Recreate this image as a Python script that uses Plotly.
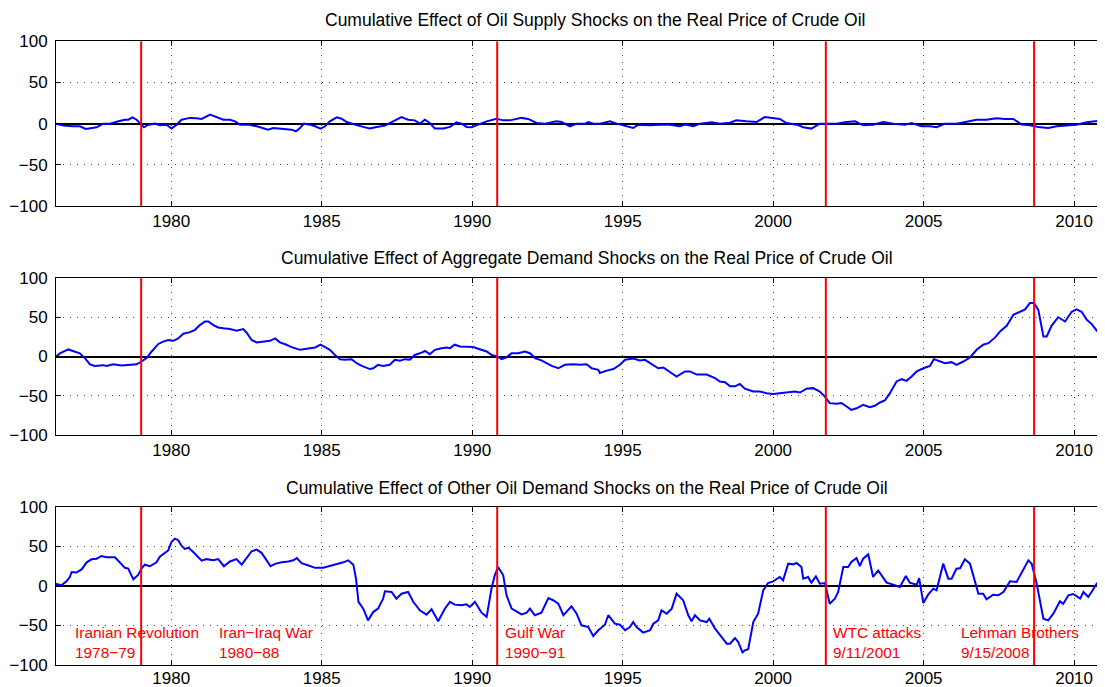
import plotly.graph_objects as go

# ---------------- data (decimal years) ----------------
supply_dates = [1976.17, 1976.41, 1976.74, 1976.96, 1977.16, 1977.35, 1977.52, 1977.74, 1977.96, 1978.24,
                1978.46, 1978.57, 1978.71, 1978.85, 1979.01, 1979.09, 1979.24, 1979.46, 1979.62, 1979.84,
                1980.01, 1980.18, 1980.34, 1980.62, 1980.84, 1981.01, 1981.29, 1981.51, 1981.73, 1981.95,
                1982.12, 1982.28, 1982.56, 1982.84, 1983.06, 1983.22, 1983.39, 1983.61, 1983.83, 1984.00,
                1984.14, 1984.28, 1984.41, 1984.61, 1984.78, 1984.96, 1985.11, 1985.27, 1985.50, 1985.66,
                1985.83, 1986.05, 1986.22, 1986.44, 1986.60, 1986.82, 1987.10, 1987.37, 1987.65, 1987.87,
                1988.09, 1988.26, 1988.43, 1988.59, 1988.76, 1989.04, 1989.26, 1989.48, 1989.65, 1989.81,
                1989.98, 1990.20, 1990.48, 1990.81, 1991.03, 1991.25, 1991.47, 1991.64, 1991.86, 1992.14,
                1992.42, 1992.80, 1992.97, 1993.25, 1993.47, 1993.75, 1993.86, 1994.02, 1994.24, 1994.58,
                1994.80, 1995.02, 1995.35, 1995.52, 1995.91, 1996.24, 1996.57, 1996.90, 1997.07, 1997.35,
                1997.57, 1997.96, 1998.23, 1998.56, 1998.78, 1999.11, 1999.45, 1999.72, 2000.00, 2000.22,
                2000.44, 2000.78, 2001.00, 2001.27, 2001.55, 2001.77, 2002.11, 2002.38, 2002.72, 2002.99,
                2003.32, 2003.66, 2003.99, 2004.38, 2004.60, 2004.93, 2005.21, 2005.43, 2005.71, 2006.09,
                2006.43, 2006.76, 2007.09, 2007.42, 2007.70, 2007.98, 2008.26, 2008.53, 2008.81, 2009.14,
                2009.42, 2009.75, 2010.08, 2010.42, 2010.69, 2010.96]
supply_vals = [0, -2.4, -3.2, -3.2, -6.5, -5.3, -4.4, 0, 0, 2.8,
               4.8, 4.8, 7.7, 4.8, -1.2, -4.4, -1.2, 0, -2, -1.2,
               -6, -1.2, 4.8, 7, 6.5, 5.7, 11, 8, 4.8, 4.8,
               2.8, -1.2, -1.2, -3.2, -5.3, -7.3, -5.3, -6, -6.5, -7.3,
               -9.3, -5.3, 0, -1.2, -3.2, -6, -3.2, 2.8, 7.7, 6,
               2, 0, -2.4, -4.5, -6, -4, -2.4, 2.8, 8, 4.8,
               4, 0, 4.8, 0.8, -6, -6, -4, 1.6, 0, -4,
               -4.4, -1.2, 2.8, 6, 4, 4, 6, 7, 5.7, 0.8,
               0, 2.8, 2, -3.2, 0, 0, 2, 0, 0, 2.8,
               0, -2.4, -5.3, -1.2, -2, -1.2, -1.2, -3.2, -1.2, -3.2,
               0, 1.6, 0, 1.2, 4, 2.8, 2, 8, 7, 5.7,
               0.8, -1.2, -4.4, -6, 0, 0, 0, 1.6, 2.8, -2,
               -1.2, 2, 0, -1.2, 0.8, -3.2, -3.2, -4.4, 0, 0,
               2, 4.8, 4.8, 6.5, 5.7, 5.7, -1.2, -2, -4, -5.3,
               -3.2, -2.4, -1.2, 1.6, 2.8, 5.7]

demand_dates = [1976.17, 1976.30, 1976.58, 1976.80, 1976.96, 1977.13, 1977.30, 1977.46, 1977.74, 1977.85,
                1978.07, 1978.35, 1978.63, 1978.85, 1979.01, 1979.18, 1979.35, 1979.57, 1979.73, 1979.90,
                1980.07, 1980.23, 1980.40, 1980.62, 1980.79, 1980.95, 1981.12, 1981.23, 1981.40, 1981.56,
                1981.73, 1981.95, 1982.17, 1982.39, 1982.50, 1982.67, 1982.84, 1983.06, 1983.28, 1983.45,
                1983.61, 1983.83, 1984.00, 1984.28, 1984.50, 1984.78, 1984.96, 1985.11, 1985.27, 1985.44,
                1985.61, 1985.77, 1985.99, 1986.16, 1986.33, 1986.60, 1986.71, 1986.87, 1987.04, 1987.26,
                1987.43, 1987.60, 1987.76, 1987.93, 1988.09, 1988.32, 1988.43, 1988.59, 1988.76, 1988.98,
                1989.15, 1989.26, 1989.42, 1989.59, 1989.81, 1990.03, 1990.25, 1990.48, 1990.64, 1990.83,
                1990.98, 1991.14, 1991.31, 1991.53, 1991.75, 1991.92, 1992.08, 1992.30, 1992.47, 1992.64,
                1992.86, 1993.08, 1993.36, 1993.58, 1993.80, 1993.97, 1994.19, 1994.24, 1994.47, 1994.69,
                1994.91, 1995.08, 1995.35, 1995.57, 1995.74, 1995.96, 1996.18, 1996.35, 1996.63, 1996.79,
                1997.07, 1997.24, 1997.46, 1997.79, 1998.07, 1998.23, 1998.40, 1998.57, 1998.73, 1998.89,
                1999.06, 1999.34, 1999.56, 1999.78, 2000.00, 2000.22, 2000.50, 2000.72, 2000.89, 2001.11,
                2001.33, 2001.55, 2001.72, 2001.88, 2002.11, 2002.27, 2002.44, 2002.60, 2002.77, 2002.99,
                2003.21, 2003.38, 2003.55, 2003.71, 2003.88, 2004.10, 2004.27, 2004.43, 2004.60, 2004.77,
                2004.99, 2005.21, 2005.34, 2005.49, 2005.71, 2005.93, 2006.09, 2006.32, 2006.54, 2006.76,
                2006.98, 2007.15, 2007.37, 2007.54, 2007.76, 2007.98, 2008.20, 2008.37, 2008.53, 2008.67,
                2008.81, 2008.98, 2009.09, 2009.25, 2009.47, 2009.70, 2009.92, 2010.08, 2010.25, 2010.42,
                2010.58, 2010.75, 2010.92, 2010.96]
demand_vals = [0, 4, 9, 5.5, 4, -2, -10, -12, -11, -12,
               -10, -11.5, -11, -10, -6.4, -2, 6.4, 16, 19, 21,
               20, 23, 29, 31, 34, 40, 44.6, 44.6, 40, 37,
               36, 35, 33, 35, 30.6, 21, 18, 19, 20, 23,
               18, 15, 12, 8.5, 10, 11.5, 15, 12, 8.5, 2,
               -3.4, -4, -3.4, -8.5, -12, -16, -15, -10.6, -12, -10.6,
               -4.2, -5.5, -3.4, -4.2, 2, 5, 7, 3, 8.5, 10.6,
               11.5, 10.6, 15, 12.7, 12.7, 12, 9.3, 6.4, 2, 0,
               -3.4, -1, 4.2, 4.2, 6.4, 4.2, -2, -5, -8.5, -12,
               -15, -10.6, -9.8, -10.6, -9.8, -15, -17, -21, -18, -16,
               -10.6, -4.2, -2.5, -5, -4.2, -9.3, -15, -14, -21, -25.5,
               -19, -19, -23, -23, -27.6, -31.8, -32.7, -38, -38, -35,
               -41, -44.6, -44.6, -46.7, -47.6, -46.7, -44.6, -44.6, -45.9, -41,
               -40.3, -44.6, -51, -59.4, -60.3, -59.4, -63.7, -68, -66, -61.6,
               -64.5, -62.8, -58.6, -56, -46.7, -31.8, -28.9, -31, -25.5, -19,
               -15, -12, -3.4, -5.5, -8.5, -7.2, -10.6, -6.4, -1.3, 8.5,
               15, 17, 24, 32, 39, 53, 56.5, 60, 68, 68,
               59.4, 25.5, 25.5, 39, 50, 44.6, 57, 60, 57, 46.7,
               41.6, 33, 41.6, 41.6]

other_dates = [1976.17, 1976.35, 1976.52, 1976.63, 1976.69, 1976.85, 1977.02, 1977.19, 1977.35, 1977.52,
               1977.68, 1977.85, 1978.13, 1978.29, 1978.46, 1978.57, 1978.68, 1978.74, 1978.90, 1979.01,
               1979.12, 1979.29, 1979.51, 1979.62, 1979.79, 1979.90, 1980.01, 1980.12, 1980.23, 1980.34,
               1980.45, 1980.57, 1980.73, 1980.90, 1981.01, 1981.17, 1981.40, 1981.56, 1981.75, 1981.95,
               1982.17, 1982.34, 1982.50, 1982.67, 1982.84, 1983.00, 1983.17, 1983.30, 1983.45, 1983.67,
               1983.89, 1984.06, 1984.17, 1984.33, 1984.56, 1984.78, 1985.05, 1985.27, 1985.50, 1985.72,
               1985.88, 1986.05, 1986.14, 1986.22, 1986.38, 1986.54, 1986.71, 1986.87, 1987.04, 1987.10,
               1987.32, 1987.48, 1987.65, 1987.87, 1988.04, 1988.26, 1988.48, 1988.65, 1988.87, 1989.09,
               1989.26, 1989.42, 1989.65, 1989.81, 1989.92, 1990.09, 1990.31, 1990.48, 1990.64, 1990.75,
               1990.86, 1991.03, 1991.14, 1991.31, 1991.47, 1991.64, 1991.81, 1991.92, 1992.08, 1992.30,
               1992.53, 1992.69, 1992.86, 1993.03, 1993.30, 1993.47, 1993.63, 1993.86, 1994.02, 1994.19,
               1994.41, 1994.52, 1994.74, 1994.91, 1995.08, 1995.24, 1995.35, 1995.46, 1995.68, 1995.91,
               1996.02, 1996.18, 1996.29, 1996.46, 1996.63, 1996.79, 1997.01, 1997.18, 1997.29, 1997.40,
               1997.57, 1997.79, 1997.88, 1998.07, 1998.29, 1998.46, 1998.57, 1998.73, 1998.84, 1998.98,
               1999.06, 1999.17, 1999.34, 1999.50, 1999.67, 1999.83, 2000.00, 2000.22, 2000.33, 2000.50,
               2000.66, 2000.78, 2000.94, 2001.00, 2001.16, 2001.27, 2001.42, 2001.55, 2001.72, 2001.88,
               2002.05, 2002.16, 2002.33, 2002.49, 2002.60, 2002.77, 2002.88, 2002.99, 2003.16, 2003.32,
               2003.49, 2003.77, 2003.99, 2004.21, 2004.41, 2004.54, 2004.77, 2004.85, 2004.99, 2005.15,
               2005.32, 2005.43, 2005.65, 2005.82, 2005.93, 2006.09, 2006.21, 2006.37, 2006.54, 2006.82,
               2006.98, 2007.09, 2007.31, 2007.48, 2007.65, 2007.87, 2008.09, 2008.31, 2008.48, 2008.59,
               2008.75, 2008.98, 2009.14, 2009.31, 2009.53, 2009.64, 2009.81, 2009.97, 2010.20, 2010.31,
               2010.47, 2010.58, 2010.75, 2010.86, 2010.96]
other_vals = [3, 0.8, 6, 11.4, 17.7, 17, 21, 30, 33.8, 34.6,
              38, 36.3, 36.3, 30, 23, 22, 14, 8.4, 14, 22,
              27, 25, 30, 37, 42, 45, 56, 60, 58, 51,
              47, 48.5, 43, 37, 32, 34, 32.5, 34, 25, 31,
              34, 27, 35, 44, 46, 42, 32.5, 25, 28, 30,
              31, 32.5, 35.4, 29, 26, 23, 23, 25, 28, 30,
              32.5, 27, 9, -20, -28.7, -43.5, -33, -28.7, -16, -6.8,
              -7.6, -16, -9.7, -7.6, -20, -30.8, -36.3, -29.5, -44.7, -28.7,
              -20, -23.6, -24.5, -23.2, -26.6, -20, -33.8, -39, -3.4, 13.5,
              24, 13.5, -11.8, -28.7, -32, -35.9, -33.8, -28.7, -37, -33.8,
              -15.2, -18, -22.4, -37, -25.7, -35, -49.8, -51.9, -63.3, -56,
              -49, -37, -47.7, -49, -56, -51.9, -45.6, -51.9, -59, -56,
              -47.7, -43.5, -30.8, -35, -28.7, -9.7, -18, -37, -44.7, -37,
              -43.5, -45.6, -41.4, -54, -64.6, -73, -73, -65.8, -70.9, -84,
              -81.4, -80, -45.6, -35, -5.5, 3.8, 5.9, 11.4, 7.2, 28.3,
              27.4, 29.1, 24, 9.3, 11.4, 4.2, 12.2, 3, 3.8, -22.4,
              -16, -7.6, 24, 24, 30.4, 35.4, 25.3, 34.6, 40, 11.4,
              19.8, 4.2, 1.7, -1.3, 12.7, 4.2, 1.7, 10, -21.5, -11,
              -3.4, -5.5, 28.3, 9.3, 9.3, 21.9, 22.5, 33.8, 28.3, -9.7,
              -9.7, -16.9, -11, -11.8, -7.6, 5.9, 5, 19.8, 32.5, 28.3,
              4.2, -41.4, -43.5, -35, -19.4, -22.4, -11.8, -10.1, -16, -7.6,
              -13.9, -7.6, 3, 0, -2.5]

panel_titles = ["Cumulative Effect of Oil Supply Shocks on the Real Price of Crude Oil",
                "Cumulative Effect of Aggregate Demand Shocks on the Real Price of Crude Oil",
                "Cumulative Effect of Other Oil Demand Shocks on the Real Price of Crude Oil"]

event_dates = [1979.0, 1990.83, 2001.75, 2008.67]
label_texts = ["Iranian Revolution<br>1978−79", "Iran−Iraq War<br>1980−88", "Gulf War<br>1990−91",
               "WTC attacks<br>9/11/2001", "Lehman Brothers<br>9/15/2008"]
label_dates = [1976.73, 1981.52, 1991.03, 2001.93, 2006.18]
label_value = -71

x_ticks = [1980, 1985, 1990, 1995, 2000, 2005, 2010]
y_ticks = [-100, -50, 0, 50, 100]
x_range = [1976.17, 2010.96]
y_range = [-100, 100]

# ---------------- figure ----------------
# the page puts the figure 8 px in from the top-left corner, so every
# position below is the wanted screen position minus that offset
OFF = 8
W, H = 1105 - OFF, 687 - OFF
FONT = "Liberation Sans, Arial, Helvetica, sans-serif"

x_dom = [(56 - OFF) / W, (1103 - OFF) / W]
panels_px = [(41.3, 206.0), (278.0, 435.0), (507.0, 665.0)]
title_px = [(595, 20), (587, 258), (587, 488)]
label_standoff = [0, 0, -2]

fig = go.Figure()
series = [(supply_dates, supply_vals), (demand_dates, demand_vals), (other_dates, other_vals)]

for i, (xs, ys) in enumerate(series):
    sfx = "" if i == 0 else str(i + 1)
    fig.add_trace(go.Scatter(x=xs, y=ys, mode="lines", line=dict(color="#0000ff", width=2),
                             xaxis="x" + sfx, yaxis="y" + sfx, showlegend=False, hoverinfo="skip"))

axis_common = dict(showline=True, linecolor="black", linewidth=1, mirror="ticks",
                   ticks="inside", ticklen=5, tickcolor="black", tickwidth=1, automargin=False,
                   showgrid=True, gridcolor="#444444", gridwidth=1, griddash="1px,6px",
                   tickfont=dict(family=FONT, size=17, color="black"))

layout = dict(template="none", width=W, height=H, margin=dict(l=0, r=0, t=0, b=0, autoexpand=False),
              plot_bgcolor="white", paper_bgcolor="white", showlegend=False)

shapes = []
annotations = []
for i in range(3):
    sfx = "" if i == 0 else str(i + 1)
    top, bot = panels_px[i]
    layout["xaxis" + sfx] = dict(axis_common, domain=x_dom, range=x_range, tickvals=x_ticks,
                                 anchor="y" + sfx, zeroline=False, ticklabelstandoff=label_standoff[i])
    layout["yaxis" + sfx] = dict(axis_common, domain=[1 - (bot - OFF) / H, 1 - (top - OFF) / H],
                                 range=y_range, tickvals=y_ticks, anchor="x" + sfx, zeroline=True,
                                 zerolinecolor="black", zerolinewidth=2, ticklabelstandoff=4)
    for d in event_dates:
        shapes.append(dict(type="line", xref="x" + sfx, yref="y" + sfx + " domain",
                           x0=d, x1=d, y0=0, y1=1, line=dict(color="#ff0000", width=2), layer="above"))
    tx, ty = title_px[i]
    annotations.append(dict(text=panel_titles[i], xref="paper", yref="paper",
                            x=(tx - OFF) / W, y=1 - (ty - OFF) / H, xanchor="center", yanchor="middle",
                            showarrow=False, font=dict(family=FONT, size=17.5, color="black")))

for t, d in zip(label_texts, label_dates):
    annotations.append(dict(text=t, xref="x3", yref="y3", x=d, y=label_value, xanchor="left",
                            yanchor="middle", align="left", showarrow=False,
                            font=dict(family=FONT, size=15.4, color="#ff0000")))

layout["shapes"] = shapes
layout["annotations"] = annotations
fig.update_layout(**layout)

fig.write_html("out.html")
